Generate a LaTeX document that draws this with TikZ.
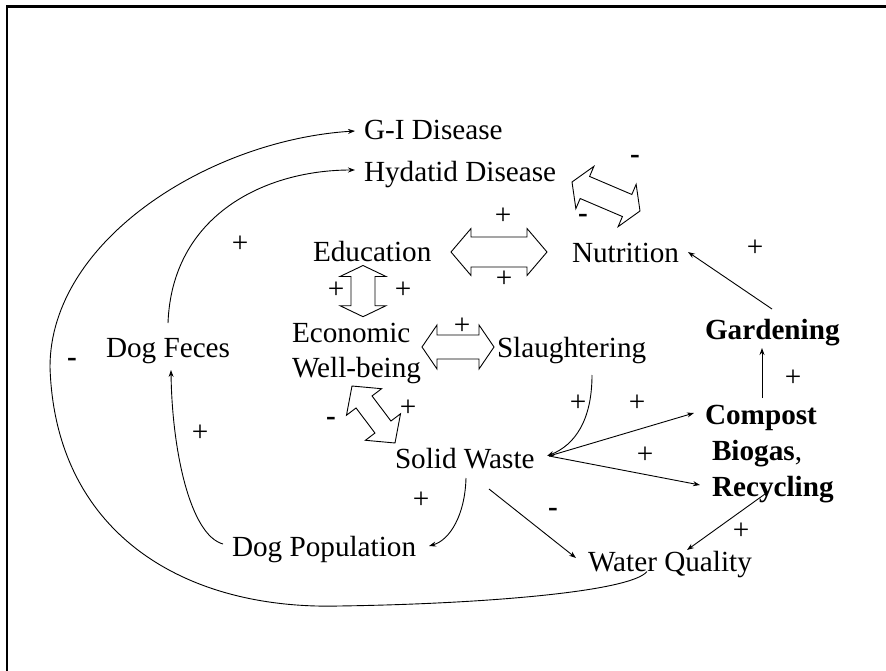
\documentclass[tikz,border=0pt]{standalone}
\usepackage{fontspec}
\setmainfont{Liberation Serif}
\usetikzlibrary{arrows.meta,calc}

% hollow double-headed block arrow between two points:
% #1, #2 tips; #3 half shaft width; #4 half head width; #5 head length
\newcommand{\hollowarrow}[5]{%
  \coordinate (ha1) at (#1);
  \coordinate (ha2) at (#2);
  \coordinate (hb1) at ($(ha1)!#5pt!(ha2)$);
  \coordinate (hb2) at ($(ha2)!#5pt!(ha1)$);
  \draw[hollow] (ha1) -- ($(hb1)!#4pt!90:(ha2)$) -- ($(hb1)!#3pt!90:(ha2)$)
    -- ($(hb2)!#3pt!-90:(ha1)$) -- ($(hb2)!#4pt!-90:(ha1)$) -- (ha2)
    -- ($(hb2)!#4pt!90:(ha1)$) -- ($(hb2)!#3pt!90:(ha1)$)
    -- ($(hb1)!#3pt!-90:(ha2)$) -- ($(hb1)!#4pt!-90:(ha2)$) -- cycle;}

\begin{document}
\begin{tikzpicture}[x=1pt,y=-1pt,
  lbl/.style={inner sep=0pt,outer sep=0pt,anchor=base west,
    font=\fontsize{29.2}{35}\selectfont},
  boldlbl/.style={lbl,font=\fontsize{29.2}{35}\selectfont\bfseries},
  sign/.style={inner sep=0pt,font=\fontsize{29.2}{35}\selectfont},
  conn/.style={line width=0.9pt,-{Stealth[length=7pt,width=5pt]}},
  hollow/.style={line width=0.9pt,fill=white,line join=miter}]

\useasboundingbox (0,0) rectangle (886,671);

% frame
\draw[line width=2.5pt,line join=miter] (7,671) -- (7,6.5) -- (886,6.5);

% factors
\node[lbl] (gi)   at (364,139.6) {G-I Disease};
\node[lbl] (hyd)  at (364,181.6) {Hydatid Disease};
\node[lbl] (edu)  at (313,261.6) {Education};
\node[lbl] (nut)  at (572,262.6) {Nutrition};
\node[lbl] (eco)  at (292,342.6) {Economic};
\node[lbl] (ecob) at (292,377.6) {Well-being};
\node[lbl] (sla)  at (497,357.6) {Slaughtering};
\node[lbl] (df)   at (106,357.6) {Dog Feces};
\node[boldlbl] (gard) at (705,339.6) {Gardening};
\node[boldlbl] (comp) at (705,424.6) {Compost};
\node[lbl] (bio)  at (712,460.6) {\textbf{Biogas},};
\node[boldlbl] (rec)  at (712,496.6) {Recycling};
\node[lbl] (sw)   at (395,468.6) {Solid Waste};
\node[lbl] (dp)   at (232,556.6) {Dog Population};
\node[lbl] (wq)   at (588,571.6) {Water Quality};

% block arrows for two-way links
\hollowarrow{572,182}{640,211}{12}{23}{14}
\hollowarrow{451,252}{547,252}{15}{23.5}{20}
\hollowarrow{363,265.5}{363,316.7}{12}{23}{11}
\hollowarrow{422,347}{494,347}{12}{22}{15}
\hollowarrow{352,386}{395,443}{10}{22}{20}

% causal links
\draw[conn] ($(wq.base west)+(59,0)$) .. controls (630,592) and (480,604) .. (339,606)
  .. controls (180,610) and (55,530) .. (50,367)
  .. controls (50,240) and (210,140) .. ($(gi.base west)+(-9,-8.6)$);
\draw[conn] ($(df.base west)+(62,-34.6)$) .. controls (172,215) and (265,170) .. ($(hyd.base west)+(-9,-11.6)$);
\draw[conn] ($(dp.base west)+(-9,-12.6)$) .. controls (190,535) and (172,450) .. ($(df.base west)+(65,12.4)$);
\draw[conn] ($(sw.base west)+(71,9.4)$) .. controls (465,515) and (450,540) .. ($(dp.base west)+(197,-10.6)$);
\draw[conn] ($(sw.base west)+(94,20.4)$) -- ($(wq.base west)+(-12,-13.6)$);
\draw[conn] ($(sw.base west)+(154,-12.6)$) -- ($(comp.base west)+(-11,-11.6)$);
\draw[conn] ($(sw.base west)+(154,-12.6)$) -- ($(rec.base west)+(-12,-11.6)$);
\draw[conn] ($(sla.base west)+(95,17.4)$) .. controls (592,420) and (575,445) .. ($(sw.base west)+(152,-12.6)$);
\draw[conn] ($(gard.base west)+(67,-30.6)$) -- ($(nut.base west)+(116,-10.6)$);
\draw[conn] ($(comp.base west)+(57,-26.6)$) -- ($(gard.base west)+(57,8.4)$);
\draw[conn] ($(rec.base west)+(53,-2.6)$) -- ($(wq.base west)+(99,-21.6)$);

% polarity signs
\node[sign] (s1)  at (635,159) {\textbf{-}};
\node[sign] (s2)  at (583,218) {\textbf{-}};
\node[sign] (s3)  at (503,216) {+};
\node[sign] (s4)  at (504,279) {+};
\node[sign] (s5)  at (240,244) {+};
\node[sign] (s6)  at (336,290) {+};
\node[sign] (s7)  at (403,290) {+};
\node[sign] (s8)  at (462,326) {+};
\node[sign] (s9)  at (755,248) {+};
\node[sign] (s10) at (793,378) {+};
\node[sign] (s11) at (72,362) {\textbf{-}};
\node[sign] (s12) at (200,433) {+};
\node[sign] (s13) at (331,421) {\textbf{-}};
\node[sign] (s14) at (408,408) {+};
\node[sign] (s15) at (578,403) {+};
\node[sign] (s16) at (637,403) {+};
\node[sign] (s17) at (645,455) {+};
\node[sign] (s18) at (421,500) {+};
\node[sign] (s19) at (553,512) {\textbf{-}};
\node[sign] (s20) at (741,531) {+};
\end{tikzpicture}
\end{document}
